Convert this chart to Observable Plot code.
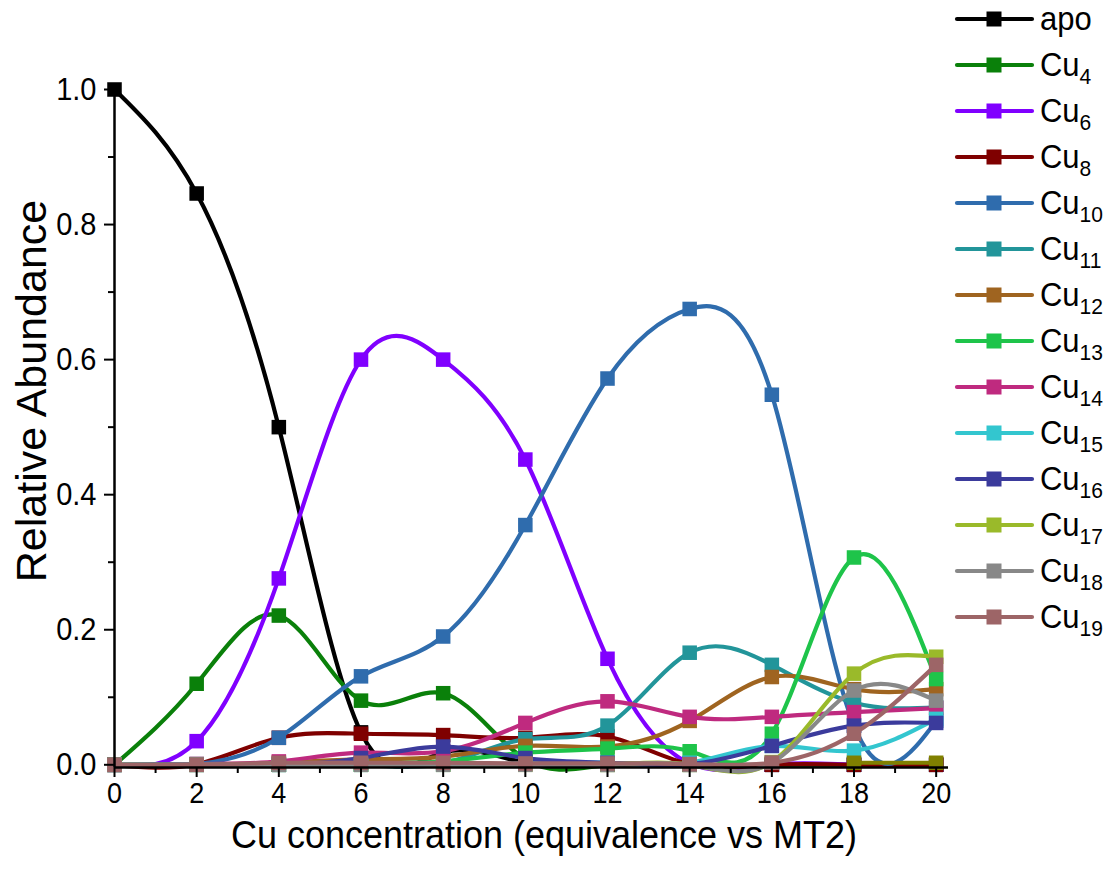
<!DOCTYPE html>
<html>
<head>
<meta charset="utf-8">
<script src="https://cdn.jsdelivr.net/npm/d3@7"></script>
<script src="https://cdn.jsdelivr.net/npm/@observablehq/plot@0.6"></script>
<style>
  body { margin: 0; background: #fff; }
  #chart { position: relative; width: 1107px; height: 873px; }
  svg text { font-family: "Liberation Sans", Arial, sans-serif; }
</style>
</head>
<body>
<div id="chart"></div>
<script>
// ---- data ----
const xs = [0, 2, 4, 6, 8, 10, 12, 14, 16, 18, 20];
const xTicks = [0, 2, 4, 6, 8, 10, 12, 14, 16, 18, 20];
const xMinorTicks = [1, 3, 5, 7, 9, 11, 13, 15, 17, 19];
const yTicks = [0, 0.2, 0.4, 0.6, 0.8, 1.0];
const yMinorTicks = [0.1, 0.3, 0.5, 0.7, 0.9];

const seriesNames = ["apo", "Cu4", "Cu6", "Cu8", "Cu10", "Cu11", "Cu12", "Cu13", "Cu14", "Cu15", "Cu16", "Cu17", "Cu18", "Cu19"];
const seriesSub   = ["",    "4",   "6",   "8",   "10",   "11",   "12",   "13",   "14",   "15",   "16",   "17",   "18",   "19"];
const seriesColors = ["#000000", "#0a800a", "#8000ff", "#7f0000", "#2f6cad", "#22959a", "#9f6420", "#1ec44a", "#bf2a7f", "#33c6cf", "#3b3b9c", "#9aba2a", "#888888", "#9d6567"];

const apo  = [1.000, 0.846, 0.500, 0.048, 0.018, 0.003, 0, 0, 0, 0, 0];
const cu4  = [0, 0.120, 0.221, 0.095, 0.106, 0.008, 0, 0, 0, 0, 0];
const cu6  = [0, 0.035, 0.276, 0.600, 0.600, 0.452, 0.157, 0.002, 0, 0, 0];
const cu8  = [0, 0.001, 0.040, 0.046, 0.044, 0.040, 0.042, 0.001, 0, 0, 0];
const cu10 = [0, 0.001, 0.040, 0.131, 0.190, 0.355, 0.572, 0.675, 0.548, 0.058, 0.065];
const cu11 = [0, 0, 0, 0, 0.002, 0.038, 0.058, 0.166, 0.148, 0.092, 0.085];
const cu12 = [0, 0, 0.003, 0.008, 0.012, 0.028, 0.027, 0.065, 0.130, 0.112, 0.112];
const cu13 = [0, 0, 0, 0.002, 0.005, 0.018, 0.024, 0.020, 0.046, 0.307, 0.127];
const cu14 = [0, 0.001, 0.005, 0.018, 0.020, 0.062, 0.094, 0.071, 0.071, 0.078, 0.084];
const cu15 = [0, 0, 0, 0, 0, 0.002, 0.003, 0.003, 0.028, 0.021, 0.068];
const cu16 = [0, 0, 0, 0.010, 0.027, 0.010, 0.003, 0.001, 0.028, 0.058, 0.062];
const cu17 = [0, 0, 0, 0, 0, 0, 0, 0, 0.004, 0.135, 0.160];
const cu18 = [0, 0, 0, 0, 0, 0, 0, 0, 0.003, 0.110, 0.095];
const cu19 = [0, 0, 0.003, 0.003, 0.003, 0.002, 0.002, 0.001, 0.003, 0.046, 0.148];
const seriesValues = [apo, cu4, cu6, cu8, cu10, cu11, cu12, cu13, cu14, cu15, cu16, cu17, cu18, cu19];

// an unlabelled olive trace visible only at the bottom of x = 18 and 20
const extraXs = [18, 20];
const extraValues = [0.003, 0.003];
const extraColor = "#808000";

// ---- build tables ----
const series = seriesNames.map((name, i) => ({
  name, color: seriesColors[i],
  rows: xs.map((x, j) => ({x, y: seriesValues[i][j]}))
}));
series.push({name: "", color: extraColor, rows: extraXs.map((x, j) => ({x, y: extraValues[j]}))});

const marks = [];
for (const s of series) {
  marks.push(Plot.line(s.rows, {x: "x", y: "y", stroke: s.color, strokeWidth: 4.2, curve: "natural"}));
  marks.push(Plot.dot(s.rows, {x: "x", y: "y", symbol: "square", r: 8.2, fill: s.color, stroke: "none"}));
}

const xMin = 0, xMax = 20.3, yMin = -0.004, yMax = 1.0;

const chart = Plot.plot({
  width: 1107,
  height: 873,
  marginLeft: 114,
  marginRight: 159,
  marginTop: 89,
  marginBottom: 106,
  style: {fontFamily: "Liberation Sans, Arial, sans-serif", background: "white", color: "black"},
  x: {domain: [xMin, xMax]},
  y: {domain: [yMin, yMax]},
  marks: [
    ...marks,
    Plot.ruleX([xMin], {y1: yMin, y2: yMax, stroke: "black", strokeWidth: 2.5}),
    Plot.ruleY([yMin], {x1: xMin, x2: xMax, stroke: "black", strokeWidth: 2.5}),
    Plot.axisX({ticks: xTicks, tickSize: 10, tickPadding: 5, fontSize: 27, strokeWidth: 2, label: null, tickFormat: d3.format("d")}),
    Plot.axisX({ticks: xMinorTicks, tickSize: 6, strokeWidth: 2, label: null, tickFormat: () => ""}),
    Plot.axisY({ticks: yTicks, tickSize: 10, tickPadding: 8, fontSize: 29, strokeWidth: 2, label: null, tickFormat: d3.format(".1f")}),
    Plot.axisY({ticks: yMinorTicks, tickSize: 6, strokeWidth: 2, label: null, tickFormat: () => ""})
  ]
});

document.getElementById("chart").appendChild(chart);
const svg = d3.select(chart);

// slight vertical stretch of tick labels, as in the reference
svg.selectAll('g[aria-label$="tick label"] text').each(function() {
  const tr = this.getAttribute("transform") || "";
  this.setAttribute("transform", tr + " scale(1,1.08)");
});

// axis titles
svg.append("text")
  .attr("transform", "translate(46,391) rotate(-90)")
  .attr("text-anchor", "middle")
  .attr("font-size", 43)
  .attr("fill", "black")
  .text("Relative Abundance");

svg.append("text")
  .attr("transform", "translate(544,848) scale(1,1.1)")
  .attr("text-anchor", "middle")
  .attr("font-size", 36)
  .attr("fill", "black")
  .text("Cu concentration (equivalence vs MT2)");

// legend
const lg = svg.append("g").attr("text-anchor", "start");
seriesNames.forEach((name, i) => {
  const y = 19 + 46.0 * i;
  const g = lg.append("g").attr("transform", `translate(0,${y})`);
  g.append("line").attr("x1", 957).attr("x2", 1032).attr("y1", 0).attr("y2", 0)
    .attr("stroke", seriesColors[i]).attr("stroke-width", 4.2).attr("stroke-linecap", "round");
  g.append("rect").attr("x", 994 - 7.5).attr("y", -7.5).attr("width", 15).attr("height", 15)
    .attr("fill", seriesColors[i]);
  const t = g.append("text").attr("transform", "translate(1040,11) scale(1,1.05)").attr("font-size", 31)
    .attr("fill", "black").attr("text-anchor", "start");
  if (seriesSub[i]) {
    t.append("tspan").text("Cu");
    t.append("tspan").attr("font-size", 21).attr("dy", 8).text(seriesSub[i]);
  } else {
    t.text(name);
  }
});
</script>
</body>
</html>
